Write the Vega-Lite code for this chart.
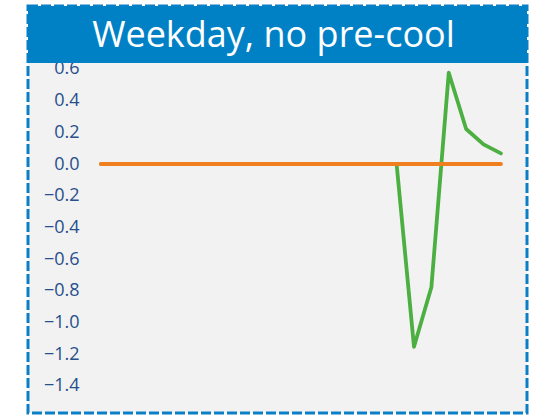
{
  "$schema": "https://vega.github.io/schema/vega-lite/v6.json",
  "width": 499,
  "height": 407,
  "autosize": {"type": "none"},
  "padding": {"left": 28, "top": 6, "right": 7, "bottom": 4},
  "background": "white",
  "config": {
    "view": {"fill": "#F2F2F2", "stroke": "#0A7FC6", "strokeWidth": 3, "strokeDash": [10, 3]}
  },
  "data": {
    "values": [
      {"hour": 0, "series": "Savings", "value": 0},
      {"hour": 1, "series": "Savings", "value": 0},
      {"hour": 2, "series": "Savings", "value": 0},
      {"hour": 3, "series": "Savings", "value": 0},
      {"hour": 4, "series": "Savings", "value": 0},
      {"hour": 5, "series": "Savings", "value": 0},
      {"hour": 6, "series": "Savings", "value": 0},
      {"hour": 7, "series": "Savings", "value": 0},
      {"hour": 8, "series": "Savings", "value": 0},
      {"hour": 9, "series": "Savings", "value": 0},
      {"hour": 10, "series": "Savings", "value": 0},
      {"hour": 11, "series": "Savings", "value": 0},
      {"hour": 12, "series": "Savings", "value": 0},
      {"hour": 13, "series": "Savings", "value": 0},
      {"hour": 14, "series": "Savings", "value": 0},
      {"hour": 15, "series": "Savings", "value": 0},
      {"hour": 16, "series": "Savings", "value": 0},
      {"hour": 17, "series": "Savings", "value": 0},
      {"hour": 18, "series": "Savings", "value": -1.153},
      {"hour": 19, "series": "Savings", "value": -0.778},
      {"hour": 20, "series": "Savings", "value": 0.576},
      {"hour": 21, "series": "Savings", "value": 0.221},
      {"hour": 22, "series": "Savings", "value": 0.124},
      {"hour": 23, "series": "Savings", "value": 0.067},
      {"hour": 0, "series": "Baseline", "value": 0},
      {"hour": 1, "series": "Baseline", "value": 0},
      {"hour": 2, "series": "Baseline", "value": 0},
      {"hour": 3, "series": "Baseline", "value": 0},
      {"hour": 4, "series": "Baseline", "value": 0},
      {"hour": 5, "series": "Baseline", "value": 0},
      {"hour": 6, "series": "Baseline", "value": 0},
      {"hour": 7, "series": "Baseline", "value": 0},
      {"hour": 8, "series": "Baseline", "value": 0},
      {"hour": 9, "series": "Baseline", "value": 0},
      {"hour": 10, "series": "Baseline", "value": 0},
      {"hour": 11, "series": "Baseline", "value": 0},
      {"hour": 12, "series": "Baseline", "value": 0},
      {"hour": 13, "series": "Baseline", "value": 0},
      {"hour": 14, "series": "Baseline", "value": 0},
      {"hour": 15, "series": "Baseline", "value": 0},
      {"hour": 16, "series": "Baseline", "value": 0},
      {"hour": 17, "series": "Baseline", "value": 0},
      {"hour": 18, "series": "Baseline", "value": 0},
      {"hour": 19, "series": "Baseline", "value": 0},
      {"hour": 20, "series": "Baseline", "value": 0},
      {"hour": 21, "series": "Baseline", "value": 0},
      {"hour": 22, "series": "Baseline", "value": 0},
      {"hour": 23, "series": "Baseline", "value": 0}
    ]
  },
  "layer": [
    {
      "mark": {"type": "line", "strokeWidth": 3.8, "strokeCap": "round", "strokeJoin": "round"},
      "transform": [{"filter": "datum.series === 'Savings'"}],
      "encoding": {
        "x": {"field": "hour", "type": "quantitative", "scale": {"domain": [-4.2, 24.5], "nice": false, "zero": false}, "axis": null},
        "y": {
          "field": "value", "type": "quantitative",
          "scale": {"domain": [-1.571, 0.997], "nice": false, "zero": false},
          "axis": {
            "values": [-1.4, -1.2, -1.0, -0.8, -0.6, -0.4, -0.2, 0, 0.2, 0.4, 0.6],
            "format": ".1f", "title": null, "ticks": false, "domain": false, "grid": false,
            "offset": -51, "labelPadding": 0,
            "labelFont": "Open Sans", "labelFontSize": 18, "labelColor": "#264F8C"
          }
        },
        "color": {"field": "series", "type": "nominal", "scale": {"domain": ["Savings", "Baseline"], "range": ["#4CAF41", "#F0801F"]}, "legend": null}
      }
    },
    {
      "mark": {"type": "line", "strokeWidth": 4, "strokeCap": "round"},
      "transform": [{"filter": "datum.series === 'Baseline'"}],
      "encoding": {
        "x": {"field": "hour", "type": "quantitative"},
        "y": {"field": "value", "type": "quantitative"},
        "color": {"field": "series", "type": "nominal", "legend": null}
      }
    },
    {
      "mark": {"type": "rect", "color": "#0081C6"},
      "encoding": {
        "y": {"datum": 0.638, "type": "quantitative"},
        "y2": {"datum": 0.997}
      }
    },
    {
      "mark": {"type": "text", "color": "white", "font": "Open Sans", "fontSize": 36, "baseline": "alphabetic", "align": "center", "dx": -4},
      "data": {"values": [{"title": "Weekday, no pre-cool"}]},
      "encoding": {
        "y": {"datum": 0.738, "type": "quantitative"},
        "text": {"field": "title"}
      }
    }
  ]
}
